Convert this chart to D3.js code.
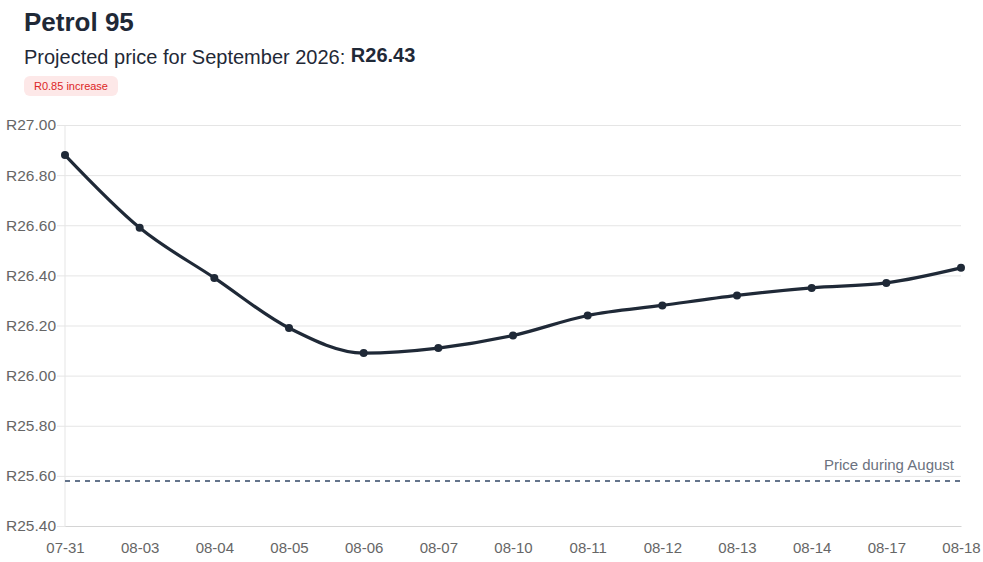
<!DOCTYPE html>
<html>
<head>
<meta charset="utf-8">
<script src="https://cdn.jsdelivr.net/npm/d3@7"></script>
<style>
    body { margin: 0; background: #fff; font-family: "Liberation Sans", Arial, Helvetica, sans-serif; }
    svg { display: block; }
</style>
</head>
<body>
<svg id="chart" width="983" height="562"></svg>
<script>
// data
var dates = ["07-31", "08-03", "08-04", "08-05", "08-06", "08-07", "08-10",
    "08-11", "08-12", "08-13", "08-14", "08-17", "08-18"];
var prices = [26.88, 26.59, 26.39, 26.19, 26.09, 26.11, 26.16,
    26.24, 26.28, 26.32, 26.35, 26.37, 26.43];
var augustPrice = 25.58;
var yTicks = [25.40, 25.60, 25.80, 26.00, 26.20, 26.40, 26.60, 26.80, 27.00];

var svg = d3.select("#chart");
var dark = "#1f2937";

var margin = { left: 65, right: 22, top: 125, bottom: 36 };
var width = +svg.attr("width");
var height = +svg.attr("height");

// header
svg.append("text")
    .attr("x", 24)
    .attr("y", 31)
    .attr("font-size", "26px")
    .attr("font-weight", "bold")
    .attr("fill", dark)
    .text("Petrol 95");

var sub = svg.append("text")
    .attr("x", 24)
    .attr("y", 64)
    .attr("font-size", "20px")
    .attr("fill", dark);
sub.append("tspan").text("Projected price for September 2026: ");
sub.append("tspan")
    .attr("font-weight", "bold")
    .attr("dy", -2)
    .text("R" + prices[prices.length - 1].toFixed(2));

var diff = prices[prices.length - 1] - augustPrice;
var badge = svg.append("g").attr("transform", "translate(24,76)");
badge.append("rect")
    .attr("width", 94)
    .attr("height", 20)
    .attr("rx", 6)
    .attr("fill", "#fde8e8");
badge.append("text")
    .attr("x", 47)
    .attr("y", 14)
    .attr("text-anchor", "middle")
    .attr("font-size", "11px")
    .attr("fill", "#dc2626")
    .text("R" + diff.toFixed(2) + " increase");

// scales
var x = d3.scalePoint()
    .domain(dates)
    .range([margin.left, width - margin.right]);

var y = d3.scaleLinear()
    .domain([25.40, 27.00])
    .range([height - margin.bottom, margin.top]);

// grid + y axis
var yAxis = svg.append("g")
    .attr("transform", "translate(" + margin.left + ",0)")
    .call(d3.axisLeft(y)
        .tickValues(yTicks)
        .tickSize(-(width - margin.right - margin.left))
        .tickPadding(10)
        .tickFormat(function (d) { return "R" + d.toFixed(2); }));
yAxis.select(".domain").remove();
yAxis.selectAll(".tick line")
    .attr("x1", -8)
    .attr("stroke", "#e5e5e5");
yAxis.selectAll(".tick text")
    .attr("x", -9)
    .attr("font-size", "15.5px")
    .attr("font-family", "Liberation Sans, Arial, sans-serif")
    .attr("fill", "#666");

// left border line
svg.append("line")
    .attr("x1", margin.left).attr("x2", margin.left)
    .attr("y1", margin.top).attr("y2", height - margin.bottom)
    .attr("stroke", "#e5e5e5");

// x axis
var xAxis = svg.append("g")
    .attr("transform", "translate(0," + (height - margin.bottom) + ")")
    .call(d3.axisBottom(x).tickSize(0).tickPadding(16));
xAxis.select(".domain")
    .attr("stroke", "#d4d4d4");
xAxis.selectAll(".tick text")
    .attr("font-size", "15px")
    .attr("font-family", "Liberation Sans, Arial, sans-serif")
    .attr("fill", "#666");

// August reference line
svg.append("line")
    .attr("x1", margin.left)
    .attr("x2", width - margin.right)
    .attr("y1", y(augustPrice))
    .attr("y2", y(augustPrice))
    .attr("stroke", "#64748b")
    .attr("stroke-width", 2)
    .attr("stroke-dasharray", "5,5");

svg.append("text")
    .attr("x", width - margin.right - 7)
    .attr("y", y(augustPrice) - 11)
    .attr("text-anchor", "end")
    .attr("font-size", "15px")
    .attr("fill", "#6b7280")
    .text("Price during August");

// price line
var line = d3.line()
    .x(function (d, i) { return x(dates[i]); })
    .y(function (d) { return y(d); })
    .curve(d3.curveMonotoneX);

svg.append("path")
    .datum(prices)
    .attr("d", line)
    .attr("fill", "none")
    .attr("stroke", dark)
    .attr("stroke-width", 3.2);

svg.selectAll("circle.pt")
    .data(prices)
    .enter()
    .append("circle")
    .attr("class", "pt")
    .attr("cx", function (d, i) { return x(dates[i]); })
    .attr("cy", function (d) { return y(d); })
    .attr("r", 4)
    .attr("fill", dark);
</script>
</body>
</html>
